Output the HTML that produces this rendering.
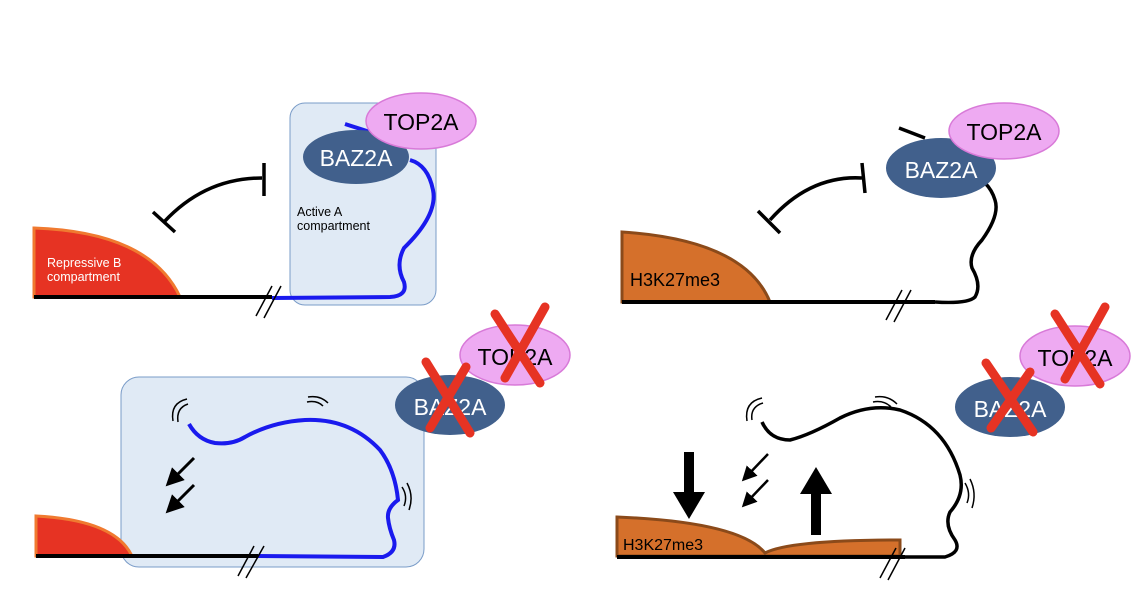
<!DOCTYPE html>
<html><head><style>
html,body{margin:0;padding:0;background:#fff;width:1148px;height:594px;overflow:hidden}
svg text{font-family:"Liberation Sans",sans-serif}
</style></head><body>
<svg width="1148" height="594" viewBox="0 0 1148 594" xmlns="http://www.w3.org/2000/svg">
<defs>
<marker id="ah" markerWidth="6" markerHeight="6" refX="3" refY="3" orient="auto" markerUnits="strokeWidth">
<path d="M0,0 L6,3 L0,6 Z" fill="#000"/></marker>
</defs>

<!-- ===== Panel 1 ===== -->
<rect x="290" y="103" width="146" height="202" rx="15" fill="#e0eaf5" stroke="#7a9cc8" stroke-width="1"/>
<path d="M34,297 L34,228 Q150,232 180,297 Z" fill="#e63323" stroke="#f07a30" stroke-width="3"/>
<line x1="34" y1="297" x2="272" y2="297" stroke="#000" stroke-width="4"/>
<text x="47" y="267" fill="#fff" font-size="12.5">Repressive B</text>
<text x="47" y="281" fill="#fff" font-size="12.5">compartment</text>
<path d="M272,298 L390,297 Q408,296 404,282 Q395,265 404,248 Q438,215 433,190 Q428,165 410,160" fill="none" stroke="#1a1aee" stroke-width="4"/>
<path d="M345,124 L370,132" fill="none" stroke="#1a1aee" stroke-width="4"/>
<line x1="256" y1="316" x2="272" y2="286" stroke="#000" stroke-width="1.5"/>
<line x1="264" y1="318" x2="281" y2="286" stroke="#000" stroke-width="1.5"/>
<text x="297" y="216" fill="#000" font-size="12.5">Active A</text>
<text x="297" y="230" fill="#000" font-size="12.5">compartment</text>
<path d="M164,222 Q205,178 262,178" fill="none" stroke="#000" stroke-width="3.5"/>
<line x1="153" y1="212" x2="175" y2="232" stroke="#000" stroke-width="3.5"/>
<line x1="264" y1="163" x2="264" y2="196" stroke="#000" stroke-width="3.5"/>
<ellipse cx="356" cy="157" rx="53" ry="27" fill="#41608c"/>
<text x="356" y="166" fill="#fff" font-size="23" text-anchor="middle">BAZ2A</text>
<ellipse cx="421" cy="121" rx="55" ry="28" fill="#eeaaf2" stroke="#d87ad8" stroke-width="1.5"/>
<text x="421" y="130" fill="#000" font-size="23" text-anchor="middle">TOP2A</text>

<!-- ===== Panel 2 ===== -->
<rect x="121" y="377" width="303" height="190" rx="18" fill="#e0eaf5" stroke="#7a9cc8" stroke-width="1"/>
<path d="M36,556 L36,516 Q115,520 132,556 Z" fill="#e63323" stroke="#f07a30" stroke-width="3"/>
<line x1="36" y1="556" x2="258" y2="556" stroke="#000" stroke-width="4"/>
<path d="M258,556 L383,557 Q397,552 394,540 Q389,528 388,518 Q387,508 398,500 Q395,470 380,450 Q350,418 305,420 Q272,422 245,437 Q232,445 215,443 Q198,440 189,424" fill="none" stroke="#1a1aee" stroke-width="4"/>
<line x1="238" y1="576" x2="254" y2="546" stroke="#000" stroke-width="1.5"/>
<line x1="246" y1="578" x2="264" y2="546" stroke="#000" stroke-width="1.5"/>
<line x1="194" y1="458" x2="172" y2="480" stroke="#000" stroke-width="3" marker-end="url(#ah)"/>
<line x1="194" y1="485" x2="172" y2="507" stroke="#000" stroke-width="3" marker-end="url(#ah)"/>
<g fill="none" stroke="#000" stroke-width="1.5">
<path d="M178,422 Q176,408 188,404"/><path d="M173,421 Q170,403 187,399"/>
<path d="M308,397 Q320,395 328,403"/><path d="M307,402 Q317,400 323,406"/>
<path d="M402,487 Q408,496 404,506"/><path d="M407,483 Q414,496 409,510"/>
</g>
<ellipse cx="450" cy="405" rx="55" ry="30" fill="#41608c"/>
<text x="450" y="415" fill="#fff" font-size="23" text-anchor="middle">BAZ2A</text>
<ellipse cx="515" cy="355" rx="55" ry="30" fill="#eeaaf2" stroke="#d87ad8" stroke-width="1.5"/>
<text x="515" y="365" fill="#000" font-size="23" text-anchor="middle">TOP2A</text>
<g stroke="#e63323" stroke-width="9" stroke-linecap="round">
<line x1="426" y1="362" x2="470" y2="433"/><line x1="466" y1="367" x2="430" y2="428"/>
<line x1="495" y1="314" x2="540" y2="383"/><line x1="545" y1="307" x2="505" y2="378"/>
</g>

<!-- ===== Panel 3 ===== -->
<path d="M622,302 L622,232 Q745,240 770,302 Z" fill="#d5702b" stroke="#8b4a1a" stroke-width="3"/>
<line x1="622" y1="302" x2="935" y2="302" stroke="#000" stroke-width="4"/>
<text x="630" y="286" fill="#000" font-size="18">H3K27me3</text>
<path d="M935,302 Q968,304 975,297 Q982,285 972,268 Q968,255 982,240 Q1000,215 995,200 Q992,190 985,183" fill="none" stroke="#000" stroke-width="3.5"/>
<line x1="886" y1="320" x2="902" y2="290" stroke="#000" stroke-width="1.5"/>
<line x1="894" y1="322" x2="911" y2="290" stroke="#000" stroke-width="1.5"/>
<line x1="899" y1="128" x2="925" y2="138" stroke="#000" stroke-width="3.5"/>
<path d="M770,220 Q810,175 862,178" fill="none" stroke="#000" stroke-width="3.5"/>
<line x1="758" y1="211" x2="780" y2="233" stroke="#000" stroke-width="3.5"/>
<line x1="862" y1="163" x2="865" y2="193" stroke="#000" stroke-width="3.5"/>
<ellipse cx="941" cy="168" rx="55" ry="30" fill="#41608c"/>
<text x="941" y="178" fill="#fff" font-size="23" text-anchor="middle">BAZ2A</text>
<ellipse cx="1004" cy="131" rx="55" ry="28" fill="#eeaaf2" stroke="#d87ad8" stroke-width="1.5"/>
<text x="1004" y="140" fill="#000" font-size="23" text-anchor="middle">TOP2A</text>

<!-- ===== Panel 4 ===== -->
<path d="M617,556 L617,517 Q740,522 765,553 Q790,540 900,540 L900,556 Z" fill="#d5702b" stroke="#8b4a1a" stroke-width="3"/>
<line x1="617" y1="557" x2="905" y2="557" stroke="#000" stroke-width="4"/>
<text x="623" y="550" fill="#000" font-size="16">H3K27me3</text>
<path d="M905,557 L945,557 Q962,552 955,540 Q944,525 950,512 Q965,495 960,475 Q945,425 900,410 Q870,403 840,418 Q810,435 790,440 Q770,440 762,422" fill="none" stroke="#000" stroke-width="3.5"/>
<line x1="880" y1="578" x2="896" y2="548" stroke="#000" stroke-width="1.5"/>
<line x1="888" y1="580" x2="905" y2="548" stroke="#000" stroke-width="1.5"/>
<rect x="684" y="452" width="10" height="42" fill="#000"/>
<path d="M673,492 L705,492 L689,519 Z" fill="#000"/>
<rect x="811" y="492" width="10" height="43" fill="#000"/>
<path d="M800,494 L832,494 L816,467 Z" fill="#000"/>
<line x1="768" y1="454" x2="747" y2="476" stroke="#000" stroke-width="2.5" marker-end="url(#ah)"/>
<line x1="768" y1="480" x2="747" y2="502" stroke="#000" stroke-width="2.5" marker-end="url(#ah)"/>
<g fill="none" stroke="#000" stroke-width="1.5">
<path d="M752,420 Q750,407 763,403"/><path d="M747,421 Q744,402 762,398"/>
<path d="M875,397 Q888,395 897,404"/><path d="M873,402 Q884,400 891,407"/>
<path d="M965,483 Q971,493 967,503"/><path d="M970,479 Q977,493 972,508"/>
</g>
<ellipse cx="1010" cy="407" rx="55" ry="30" fill="#41608c"/>
<text x="1010" y="417" fill="#fff" font-size="23" text-anchor="middle">BAZ2A</text>
<ellipse cx="1075" cy="356" rx="55" ry="30" fill="#eeaaf2" stroke="#d87ad8" stroke-width="1.5"/>
<text x="1075" y="366" fill="#000" font-size="23" text-anchor="middle">TOP2A</text>
<g stroke="#e63323" stroke-width="9" stroke-linecap="round">
<line x1="986" y1="363" x2="1033" y2="432"/><line x1="1030" y1="372" x2="991" y2="428"/>
<line x1="1055" y1="314" x2="1100" y2="384"/><line x1="1105" y1="307" x2="1065" y2="379"/>
</g>
</svg>
</body></html>
